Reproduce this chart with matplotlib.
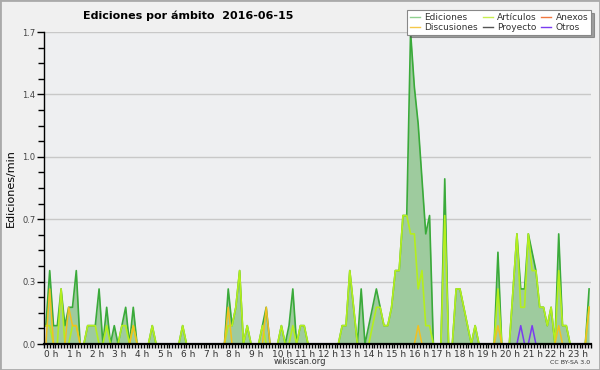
import numpy as np
import matplotlib
matplotlib.use("Agg")
import matplotlib.pyplot as plt
from matplotlib.patches import Rectangle

# ediciones por minuto, ventanas de 10 min (6 por hora)
ediciones = [
    0.1, 0.4, 0.1, 0.1, 0.3, 0.1,   # 0 h
    0.2, 0.2, 0.4, 0, 0, 0.1,       # 1 h
    0.1, 0.1, 0.3, 0, 0.2, 0,       # 2 h
    0.1, 0, 0.1, 0.2, 0, 0.2,       # 3 h
    0, 0, 0, 0, 0.1, 0,             # 4 h
    0, 0, 0, 0, 0, 0,               # 5 h
    0.1, 0, 0, 0, 0, 0,             # 6 h
    0, 0, 0, 0, 0, 0,               # 7 h
    0.3, 0.1, 0.2, 0.4, 0, 0.1,     # 8 h
    0, 0, 0, 0.1, 0.2, 0,           # 9 h
    0, 0, 0.1, 0, 0.1, 0.3,         # 10 h
    0, 0.1, 0.1, 0, 0, 0,           # 11 h
    0, 0, 0, 0, 0, 0,               # 12 h
    0.1, 0.1, 0.4, 0.2, 0, 0.3,     # 13 h
    0, 0.1, 0.2, 0.3, 0.2, 0.1,     # 14 h
    0.1, 0.2, 0.4, 0.4, 0.7, 0.7,   # 15 h
    1.7, 1.4, 1.2, 0.9, 0.6, 0.7,   # 16 h
    0, 0, 0, 0.9, 0, 0,             # 17 h
    0.3, 0.3, 0.2, 0.1, 0, 0.1,     # 18 h
    0, 0, 0, 0, 0, 0.5,             # 19 h
    0, 0, 0, 0.3, 0.6, 0.3,         # 20 h
    0.3, 0.6, 0.5, 0.4, 0.2, 0.2,   # 21 h
    0.1, 0.2, 0, 0.6, 0.1, 0.1,     # 22 h
    0, 0, 0, 0, 0, 0.3,             # 23 h
]

articulos = [
    0.1, 0.1, 0, 0, 0.3, 0,
    0, 0.1, 0.1, 0, 0, 0.1,
    0.1, 0.1, 0, 0, 0.1, 0,
    0, 0, 0.1, 0.1, 0, 0.1,
    0, 0, 0, 0, 0.1, 0,
    0, 0, 0, 0, 0, 0,
    0.1, 0, 0, 0, 0, 0,
    0, 0, 0, 0, 0, 0,
    0.1, 0.1, 0.2, 0.4, 0, 0.1,
    0, 0, 0, 0.1, 0, 0,
    0, 0, 0.1, 0, 0, 0.1,
    0, 0.1, 0.1, 0, 0, 0,
    0, 0, 0, 0, 0, 0,
    0.1, 0.1, 0.4, 0.2, 0, 0,
    0, 0, 0.1, 0.2, 0.2, 0.1,
    0.1, 0.2, 0.4, 0.4, 0.7, 0.7,
    0.6, 0.6, 0.3, 0.4, 0.1, 0.1,
    0, 0, 0, 0.7, 0, 0,
    0.3, 0.3, 0.2, 0.1, 0, 0.1,
    0, 0, 0, 0, 0, 0.3,
    0, 0, 0, 0.3, 0.6, 0.2,
    0.2, 0.6, 0.4, 0.4, 0.2, 0.2,
    0.1, 0.2, 0, 0.4, 0.1, 0.1,
    0, 0, 0, 0, 0, 0.2,
]

# series casi vacias: {indice de ventana: valor}
discusiones_pts = {1: 0.3, 6: 0.2, 7: 0.1, 8: 0.1, 23: 0.1, 48: 0.2, 58: 0.2,
                   98: 0.1, 119: 0.1, 135: 0.1, 143: 0.2}
otros_pts = {125: 0.1, 128: 0.1}
anexos_pts = {}
proyecto_pts = {}

ymax = 1.7
horas = [f"{h} h" for h in range(24)]

n = len(ediciones)
t = (np.arange(n) + 0.5) / 6.0


def serie(pts):
    s = np.zeros(n)
    for k, v in pts.items():
        s[k] = v
    return s


discusiones = serie(discusiones_pts)
otros = serie(otros_pts)
anexos = serie(anexos_pts)
proyecto = serie(proyecto_pts)

c_ed = "#3aaa3a"
c_fill = "#9ecb9e"
c_art = "#b4ee1e"
c_dis = "#f2c020"
c_anx = "#f07840"
c_pro = "#555555"
c_otr = "#7a3cf0"

fig = plt.figure(figsize=(6, 3.7), dpi=100, facecolor="#f0f0f0")
ax = fig.add_axes([44 / 600, 26 / 370, 547 / 600, 312 / 370])
ax.set_facecolor("#eeeff1")

ax.fill_between(t, ediciones, 0, color=c_fill, lw=0, zorder=2)
ax.plot(t, anexos, color=c_anx, lw=1.1, zorder=2.5)
ax.plot(t, proyecto, color=c_pro, lw=1.1, zorder=2.5)
ax.plot(t, ediciones, color=c_ed, lw=1.2, zorder=3)
ax.plot(t, articulos, color=c_art, lw=1.2, zorder=4)
ax.plot(t, discusiones, color=c_dis, lw=1.1, zorder=5)
ax.plot(t, otros, color=c_otr, lw=1.1, zorder=6)

ax.set_xlim(0, 24)
ax.set_ylim(0, ymax)

yt = np.linspace(0, ymax, 6)
ax.set_yticks(yt)
ax.set_yticklabels([f"{v:.1f}" for v in yt])
ax.set_yticks(np.linspace(0, ymax, 21), minor=True)
ax.yaxis.grid(True, which="major", color="#c8c8c8", lw=1, zorder=0)
ax.set_axisbelow(True)

ax.set_xticks(range(24))
ax.set_xticklabels(horas, ha="left")
ax.set_xticks(np.arange(0, 24.01, 1 / 8), minor=True)

for s in ["top", "right"]:
    ax.spines[s].set_visible(False)
ax.spines["left"].set_linewidth(1.0)
ax.spines["bottom"].set_linewidth(1.6)
ax.spines["left"].set_zorder(7)
ax.spines["bottom"].set_zorder(7)

ax.tick_params(axis="y", which="major", length=5, width=1, labelsize=6,
               labelcolor="#444444", pad=1)
ax.tick_params(axis="y", which="minor", length=4, width=1)
ax.tick_params(axis="x", which="both", length=3, width=1, labelsize=6.5,
               labelcolor="#333333", pad=1)

ax.set_ylabel("Ediciones/min", fontsize=8, labelpad=5)

fig.text(0.313, 0.957, "Ediciones por ámbito  2016-06-15", ha="center",
         va="center", fontsize=8, fontweight="bold")
fig.text(0.5, 0.022, "wikiscan.org", ha="center", va="center",
         fontsize=6, color="#333333")
fig.text(0.983, 0.02, "CC BY-SA 3.0", ha="right", va="center",
         fontsize=4.5, color="#333333")

handles = [
    plt.Line2D([], [], color="#8fd08f", lw=1),
    plt.Line2D([], [], color="#f5c84a", lw=1),
    plt.Line2D([], [], color="#c8ee50", lw=1),
    plt.Line2D([], [], color=c_pro, lw=1),
    plt.Line2D([], [], color=c_anx, lw=1),
    plt.Line2D([], [], color=c_otr, lw=1),
]
names = ["Ediciones", "Discusiones", "Artículos", "Proyecto", "Anexos", "Otros"]
leg = fig.legend(handles, names, ncol=3, loc="upper right",
                 bbox_to_anchor=(0.985, 0.972), fontsize=6.5, frameon=True,
                 fancybox=False, shadow=True, handlelength=1.1,
                 handletextpad=0.5, columnspacing=0.5, labelspacing=0.1,
                 borderpad=0.3, borderaxespad=0)
leg.get_frame().set_edgecolor("#888888")
leg.get_frame().set_linewidth(0.8)
leg.get_frame().set_facecolor("white")
for txt in leg.get_texts():
    txt.set_color("#333333")

fig.patches.append(Rectangle((0, 0), 1, 1, transform=fig.transFigure,
                             fill=False, edgecolor="#aaaaaa", lw=2))

fig.savefig("out.png", dpi=100, facecolor=fig.get_facecolor())
